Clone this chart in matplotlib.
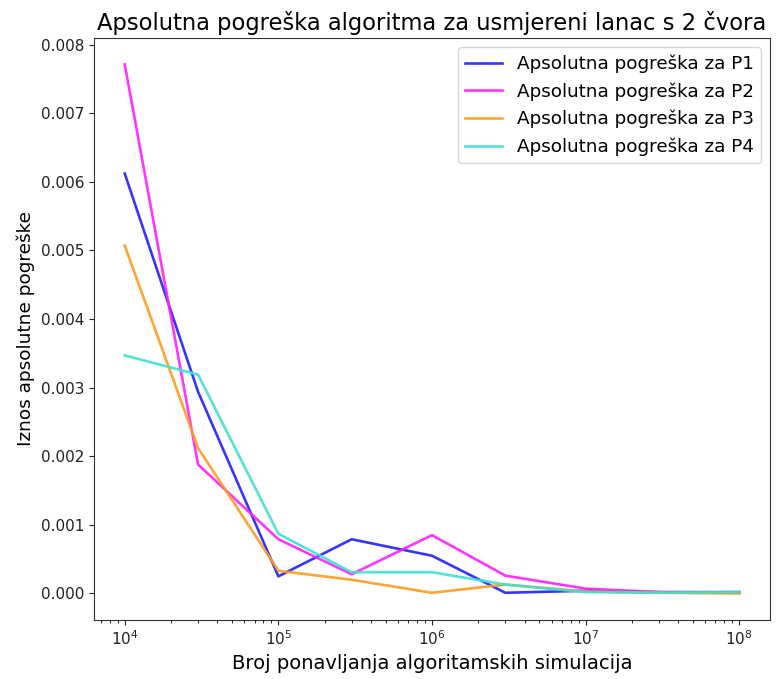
import matplotlib
matplotlib.use("Agg")
import matplotlib.pyplot as plt

n_sim = [1e4, 3e4, 1e5, 3e5, 1e6, 3e6, 1e7, 3e7, 1e8]
p1 = [0.00612, 0.00294, 0.00025, 0.00079, 0.00055, 0.00001, 0.00004, 0.00002, 0.00002]
p2 = [0.00771, 0.00188, 0.00079, 0.00028, 0.00085, 0.00026, 0.00007, 0.00002, 0.00001]
p3 = [0.00507, 0.00212, 0.00033, 0.00020, 0.00001, 0.00013, 0.00003, 0.00001, 0.00000]
p4 = [0.00347, 0.00319, 0.00087, 0.00031, 0.00031, 0.00013, 0.00002, 0.00001, 0.00002]
labels = ["Apsolutna pogreška za P1", "Apsolutna pogreška za P2",
          "Apsolutna pogreška za P3", "Apsolutna pogreška za P4"]
colors = ["#1f1fff", "#ff1fff", "#ff9a1f", "#40e0d0"]

fig, ax = plt.subplots(figsize=(7.77, 6.79), dpi=100)
for ys, lab, c in zip([p1, p2, p3, p4], labels, colors):
    ax.plot(n_sim, ys, color=c, label=lab, lw=1.9, alpha=0.9)
ax.set_xscale("log")
ax.set_title("Apsolutna pogreška algoritma za usmjereni lanac s 2 čvora", fontsize=16.3)
ax.set_xlabel("Broj ponavljanja algoritamskih simulacija", fontsize=14)
ax.set_ylabel("Iznos apsolutne pogreške", fontsize=13.3)
ax.tick_params(labelsize=11, colors="#222222")
for s in ax.spines.values():
    s.set_color("#333333")
ax.legend(fontsize=13.2, loc="upper right")
fig.subplots_adjust(left=0.121, right=0.991, top=0.944, bottom=0.087)
fig.savefig("out.png", dpi=100)
